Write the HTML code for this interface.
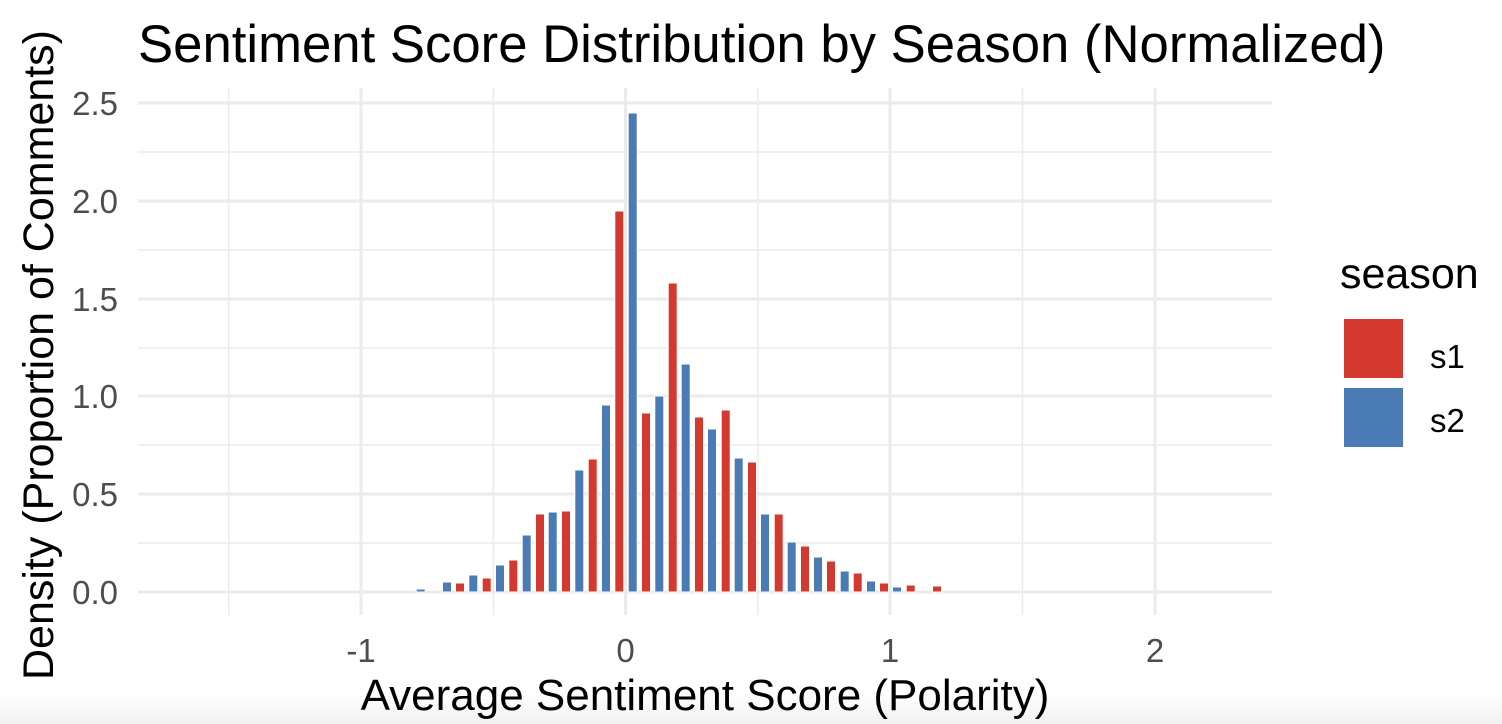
<!DOCTYPE html>
<html><head><meta charset="utf-8"><style>
html,body{margin:0;padding:0;background:#fff;}
svg{display:block;font-family:"Liberation Sans",Arial,sans-serif;}
</style></head><body>
<svg width="1502" height="724" viewBox="0 0 1502 724">
<defs><linearGradient id="g" x1="0" y1="0" x2="0" y2="1"><stop offset="0" stop-color="#fff"/><stop offset="1" stop-color="#f2f2f2"/></linearGradient></defs>
<rect x="0" y="690" width="1502" height="34" fill="url(#g)"/>
<g stroke="#ebebeb">
<g stroke-width="1.5">
<line x1="138" x2="1272" y1="543" y2="543"/><line x1="138" x2="1272" y1="445" y2="445"/><line x1="138" x2="1272" y1="348" y2="348"/><line x1="138" x2="1272" y1="250" y2="250"/><line x1="138" x2="1272" y1="152" y2="152"/>
<line x1="228.7" x2="228.7" y1="88" y2="615"/><line x1="493.3" x2="493.3" y1="88" y2="615"/><line x1="758" x2="758" y1="88" y2="615"/><line x1="1022.5" x2="1022.5" y1="88" y2="615"/>
</g>
<g stroke-width="3">
<line x1="138" x2="1272" y1="592" y2="592"/><line x1="138" x2="1272" y1="494" y2="494"/><line x1="138" x2="1272" y1="396" y2="396"/><line x1="138" x2="1272" y1="299" y2="299"/><line x1="138" x2="1272" y1="201" y2="201"/><line x1="138" x2="1272" y1="103" y2="103"/>
<line x1="361" x2="361" y1="88" y2="615"/><line x1="625.5" x2="625.5" y1="88" y2="615"/><line x1="890" x2="890" y1="88" y2="615"/><line x1="1155" x2="1155" y1="88" y2="615"/>
</g></g>
<g stroke="#fff" stroke-width="1">
<rect x="416.2" y="589" width="9" height="3" fill="#4a7bb5"/>
<rect x="442.5" y="582" width="9" height="10" fill="#4a7bb5"/>
<rect x="455.5" y="583" width="9" height="9" fill="#d3392f"/>
<rect x="468.8" y="575" width="9" height="17" fill="#4a7bb5"/>
<rect x="482.2" y="578" width="9" height="14" fill="#d3392f"/>
<rect x="495.5" y="565" width="9" height="27" fill="#4a7bb5"/>
<rect x="508.8" y="560" width="9" height="32" fill="#d3392f"/>
<rect x="522.2" y="535" width="9" height="57" fill="#4a7bb5"/>
<rect x="535.5" y="514" width="9" height="78" fill="#d3392f"/>
<rect x="548.2" y="512" width="9" height="80" fill="#4a7bb5"/>
<rect x="561.5" y="511" width="9" height="81" fill="#d3392f"/>
<rect x="574.8" y="470" width="9" height="122" fill="#4a7bb5"/>
<rect x="588.2" y="459" width="9" height="133" fill="#d3392f"/>
<rect x="601.5" y="405" width="9" height="187" fill="#4a7bb5"/>
<rect x="614.8" y="211" width="9" height="381" fill="#d3392f"/>
<rect x="628.2" y="113" width="9" height="479" fill="#4a7bb5"/>
<rect x="641.5" y="413" width="9" height="179" fill="#d3392f"/>
<rect x="654.8" y="396" width="9" height="196" fill="#4a7bb5"/>
<rect x="668.2" y="283" width="9" height="309" fill="#d3392f"/>
<rect x="681.2" y="364" width="9" height="228" fill="#4a7bb5"/>
<rect x="694.5" y="417" width="9" height="175" fill="#d3392f"/>
<rect x="707.5" y="429" width="9" height="163" fill="#4a7bb5"/>
<rect x="721.2" y="410" width="9" height="182" fill="#d3392f"/>
<rect x="734.2" y="458" width="9" height="134" fill="#4a7bb5"/>
<rect x="747.5" y="462" width="9" height="130" fill="#d3392f"/>
<rect x="760.5" y="514" width="9" height="78" fill="#4a7bb5"/>
<rect x="774.2" y="514" width="9" height="78" fill="#d3392f"/>
<rect x="787.2" y="542" width="9" height="50" fill="#4a7bb5"/>
<rect x="800.5" y="546" width="9" height="46" fill="#d3392f"/>
<rect x="813.5" y="557" width="9" height="35" fill="#4a7bb5"/>
<rect x="826.5" y="561" width="9" height="31" fill="#d3392f"/>
<rect x="840.2" y="571" width="9" height="21" fill="#4a7bb5"/>
<rect x="853.2" y="573" width="9" height="19" fill="#d3392f"/>
<rect x="866.5" y="581" width="9" height="11" fill="#4a7bb5"/>
<rect x="879.5" y="583" width="9" height="9" fill="#d3392f"/>
<rect x="892.5" y="587" width="9" height="5" fill="#4a7bb5"/>
<rect x="906.2" y="585" width="9" height="7" fill="#d3392f"/>
<rect x="932.5" y="586" width="9" height="6" fill="#d3392f"/>
</g>
<g fill="#4d4d4d" font-size="33" text-anchor="end">
<text x="118" y="604">0.0</text><text x="118" y="506">0.5</text><text x="118" y="408">1.0</text><text x="118" y="311">1.5</text><text x="118" y="213">2.0</text><text x="118" y="115">2.5</text>
</g>
<g fill="#4d4d4d" font-size="33" text-anchor="middle">
<text x="361" y="662">-1</text><text x="625.5" y="662">0</text><text x="890" y="662">1</text><text x="1155" y="662">2</text>
</g>
<text x="705" y="710" font-size="44" text-anchor="middle" fill="#000">Average Sentiment Score (Polarity)</text>
<text transform="translate(53,355) rotate(-90)" font-size="43" text-anchor="middle" fill="#000">Density (Proportion of Comments)</text>
<text x="138" y="62" font-size="52.7" fill="#000">Sentiment Score Distribution by Season (Normalized)</text>
<text x="1340" y="288" font-size="43" fill="#000">season</text>
<rect x="1344" y="319" width="59" height="59" fill="#d3392f"/>
<rect x="1344" y="388" width="59" height="59" fill="#4a7bb5"/>
<text x="1430" y="368" font-size="33" fill="#000">s1</text>
<text x="1430" y="432" font-size="33" fill="#000">s2</text>
</svg>
</body></html>
